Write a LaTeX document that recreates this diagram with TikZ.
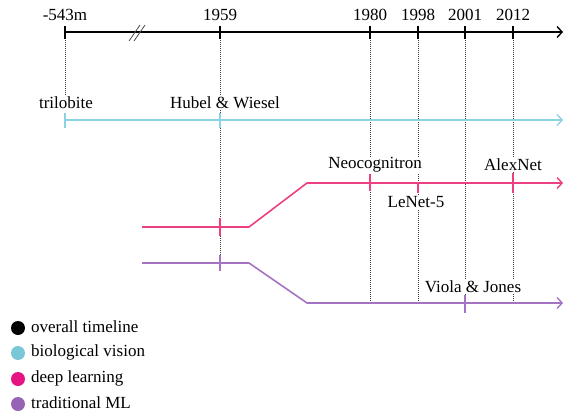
\documentclass[tikz,border=0pt]{standalone}
\usepackage{fontspec}
\setmainfont{Liberation Serif}
\usetikzlibrary{arrows.meta}
\definecolor{bio}{RGB}{140,210,225}
\definecolor{deep}{RGB}{236,64,130}
\definecolor{trad}{RGB}{165,115,195}
\definecolor{legbio}{RGB}{120,200,215}
\definecolor{legdeep}{RGB}{230,20,130}
\definecolor{legtrad}{RGB}{150,100,180}
\definecolor{dotc}{RGB}{60,60,60}
\begin{document}
\begin{tikzpicture}[x=1pt,y=-1pt,
  font=\fontsize{17}{20}\selectfont,
  arrowtip/.style={-{Straight Barb[length=5pt,width=11pt,line width=1.4pt]}},
  axisline/.style={line width=1.6pt,arrowtip},
  trackline/.style={line width=1.6pt,line join=round,arrowtip},
  guide/.style={dash pattern=on 1pt off 1pt,line width=1pt,dotc},
  tickmark/.style={line width=1.4pt},
  lbl/.style={fill=white,inner sep=1pt},
  yearlbl/.style={inner sep=0pt},
  legdot/.style={circle,minimum size=14pt,inner sep=0pt},
  legtxt/.style={anchor=west,inner sep=0pt}]
\useasboundingbox (0,0) rectangle (564,417);

% guide lines
\coordinate (g0t) at (65,32);  \coordinate (g0b) at (65,96);
\coordinate (g1t) at (220,32); \coordinate (g1b) at (220,270);
\coordinate (g2t) at (370,32); \coordinate (g2b) at (370,303);
\coordinate (g3t) at (418,32); \coordinate (g3b) at (418,303);
\coordinate (g4t) at (465,32); \coordinate (g4b) at (465,303);
\coordinate (g5t) at (513,32); \coordinate (g5b) at (513,303);
\foreach \i in {0,...,5} \draw[guide] (g\i t) -- (g\i b);

% overall timeline
\coordinate (a0) at (65,32);
\coordinate (a1) at (563,32);
\draw[axisline] (a0) -- (a1);
\foreach \x/\t in {65/-543m,220/1959,370/1980,418/1998,465/2001,513/2012}{
  \draw[tickmark] (\x,26) -- (\x,39);
  \node[yearlbl] at (\x,15) {\t};
}
\draw[line width=0.8pt,black!70] (129,41) -- (140,25);
\draw[line width=0.8pt,black!70] (134,41) -- (145,25);

% biological vision
\node[lbl] (trilo) at (66,103) {trilobite};
\node[lbl] (hubel) at (225,103) {Hubel \& Wiesel};
\coordinate (b0) at (65,120);
\coordinate (b1) at (563,120);
\draw[trackline,bio] (b0) -- (b1);
\draw[tickmark,bio] (65,113) -- (65,128);
\draw[tickmark,bio] (220,113) -- (220,128);

% deep learning
\coordinate (d0) at (142,227);
\coordinate (d1) at (249,227);
\coordinate (d2) at (307,183);
\coordinate (d3) at (563,183);
\draw[trackline,deep] (d0) -- (d1) -- (d2) -- (d3);
\draw[tickmark,deep] (220,218) -- (220,236);
\draw[tickmark,deep] (370,174) -- (370,191);
\draw[tickmark,deep] (418,183) -- (418,193);
\draw[tickmark,deep] (513,173) -- (513,193);
\node[lbl] (neo) at (375,165) {Neocognitron};
\node[lbl] (alex) at (513,165) {AlexNet};
\node[lbl] (lenet) at (416,202) {LeNet-5};

% traditional ML
\coordinate (t0) at (142,263);
\coordinate (t1) at (249,263);
\coordinate (t2) at (307,303);
\coordinate (t3) at (563,303);
\draw[trackline,trad] (t0) -- (t1) -- (t2) -- (t3);
\draw[tickmark,trad] (220,255) -- (220,271);
\draw[tickmark,trad] (465,295) -- (465,313);
\node[lbl] (viola) at (473,287) {Viola \& Jones};

% legend
\node[legdot,fill=black] (l1) at (18,328) {};
\node[legdot,fill=legbio] (l2) at (18,353) {};
\node[legdot,fill=legdeep] (l3) at (18,379) {};
\node[legdot,fill=legtrad] (l4) at (18,404) {};
\node[legtxt] (lt1) at (31,327) {overall timeline};
\node[legtxt] (lt2) at (31,352) {biological vision};
\node[legtxt] (lt3) at (31,378) {deep learning};
\node[legtxt] (lt4) at (31,403) {traditional ML};
\end{tikzpicture}
\end{document}
